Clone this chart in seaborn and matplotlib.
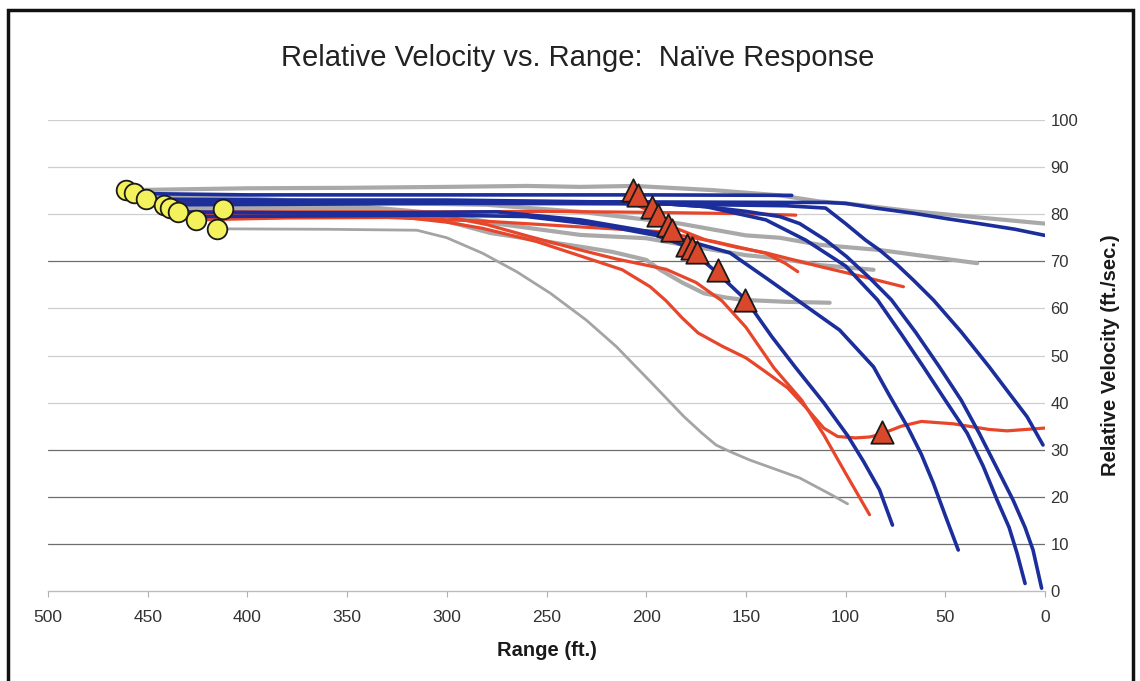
import pandas as pd
import matplotlib
matplotlib.use("Agg")
import matplotlib.pyplot as plt
from matplotlib.patches import Rectangle
import seaborn as sns

# ─── Data ─────────────────────────────────────────────────────────────────────
# grey trajectories
g1_range = [461, 400, 350, 300, 260, 233, 206, 166, 133, 113, 100, 66, 33, 0]
g1_vel   = [85.1, 85.5, 85.6, 85.8, 86.0, 85.8, 86.0, 85.1, 84.0, 82.7, 82.3, 80.6, 79.3, 78.0]
g2_range = [450, 400, 350, 280, 233, 183, 150, 133, 113, 83, 34]
g2_vel   = [84.0, 83.3, 82.5, 82.0, 80.5, 78.0, 75.5, 75.0, 73.5, 72.4, 69.6]
g3_range = [439, 390, 342, 300, 275, 233, 200, 176, 150, 133, 113, 86]
g3_vel   = [81.3, 81.4, 81.6, 80.0, 78.0, 75.6, 74.9, 73.1, 71.3, 70.6, 69.2, 68.2]
g4_range = [412, 380, 328, 300, 278, 233, 217, 200, 193, 182, 171, 160, 151, 130, 108]
g4_vel   = [81.2, 80.9, 80.9, 78.5, 76.0, 73.1, 72.0, 70.3, 68.2, 65.5, 63.2, 62.3, 61.8, 61.4, 61.2]
g5_range = [415, 360, 315, 300, 282, 265, 248, 230, 215, 198, 181, 172, 165, 158, 148, 123, 107, 99]
g5_vel   = [76.9, 76.8, 76.6, 75.0, 71.7, 67.8, 63.2, 57.5, 51.9, 44.5, 37.0, 33.5, 31.0, 29.6, 27.8, 24.0, 20.4, 18.5]

# red trajectories
r1_range = [440, 380, 300, 240, 215, 205, 195, 185, 170, 155, 140, 113, 91, 71]
r1_vel   = [82.4, 82.5, 82.5, 82.4, 82.4, 82.0, 80.0, 77.0, 74.5, 73.0, 71.8, 68.9, 66.7, 64.6]
r2_range = [435, 380, 300, 250, 200, 150, 125]
r2_vel   = [80.5, 80.5, 80.5, 80.6, 80.4, 80.1, 79.8]
r3_range = [426, 380, 330, 280, 233, 193, 166, 140, 130, 124]
r3_vel   = [78.8, 79.2, 79.3, 78.5, 77.3, 76.3, 74.2, 71.7, 69.5, 67.8]
r4_range = [420, 370, 325, 300, 282, 255, 232, 212, 198, 190, 182, 174, 162, 150, 140,
            129, 120, 111, 104, 95, 88, 83, 72, 62, 46, 28, 19, 0]
r4_vel   = [79.5, 79.5, 79.5, 78.3, 77.0, 74.2, 71.0, 68.2, 64.6, 61.6, 58.0, 54.8, 52.0, 49.5, 46.5,
            43.1, 39.0, 34.6, 32.8, 32.5, 32.7, 33.2, 35.0, 36.0, 35.5, 34.3, 34.0, 34.6]
r5_range = [430, 350, 300, 280, 258, 233, 215, 190, 175, 162, 150, 136, 122, 111, 100, 88]
r5_vel   = [80.0, 80.1, 79.5, 77.8, 75.2, 72.4, 70.5, 68.3, 65.5, 61.6, 56.0, 47.4, 40.5, 33.2, 25.0, 16.2]

# blue trajectories
b1_range = [457, 400, 300, 200, 127]
b1_vel   = [84.4, 84.1, 84.1, 84.1, 84.0]
b2_range = [451, 380, 300, 200, 130, 110, 100, 85, 66, 50, 33, 15, 0]
b2_vel   = [82.8, 82.8, 82.7, 82.6, 82.5, 82.5, 82.3, 81.3, 80.2, 79.1, 78.0, 76.8, 75.5]
b3_range = [442, 380, 300, 200, 130, 110, 100, 90, 83, 74, 66, 56, 42, 28, 18, 9, 1]
b3_vel   = [82.0, 82.1, 82.3, 82.2, 81.8, 81.3, 78.0, 74.5, 72.4, 69.2, 66.0, 61.8, 55.0, 47.6, 42.0, 37.0, 31.0]
b4_range = [451, 380, 300, 200, 170, 150, 133, 123, 110, 99.5, 88, 77, 65, 53, 42, 33, 24, 16, 10, 6, 1.7]
b4_vel   = [83.2, 83.0, 83.0, 82.5, 81.6, 80.6, 79.5, 78.0, 74.5, 71.0, 66.5, 61.8, 55.0, 47.6, 40.5,
            33.5, 26.0, 19.3, 13.5, 8.7, 0.6]
b5_range = [442, 380, 300, 200, 170, 140, 120, 100, 84, 72, 61, 50, 39, 31, 24, 18, 14, 10]
b5_vel   = [82.0, 82.6, 82.6, 82.5, 81.6, 78.8, 74.5, 69.0, 61.8, 54.5, 47.6, 40.5, 33.5, 26.5, 19.3,
            13.5, 8.0, 1.6]
b6_range = [435, 380, 330, 275, 233, 193, 178, 158, 140, 120, 103, 86, 78, 69, 62, 56, 50, 43.5]
b6_vel   = [80.5, 80.3, 80.3, 80.5, 78.8, 75.9, 74.2, 71.8, 66.5, 60.5, 55.4, 47.6, 41.5, 34.9, 29.0,
            22.9, 16.0, 8.7]
b7_range = [426, 380, 300, 260, 220, 195, 182, 172, 165, 150, 137, 125, 111, 99, 91, 83, 76.5]
b7_vel   = [79.5, 79.6, 79.8, 79.5, 77.5, 75.5, 73.5, 70.3, 67.8, 61.8, 54.0, 47.4, 40.0, 33.0, 27.5,
            21.5, 14.0]

# start markers (yellow circles) and response markers (red triangles)
start_range = [461, 457, 451, 442, 439, 435, 426, 415, 412]
start_vel   = [85.1, 84.4, 83.2, 82.0, 81.3, 80.5, 78.8, 76.9, 81.2]
resp_range  = [206.6, 204, 197, 194, 189, 187, 179.7, 177, 174.7, 164, 150.5, 81.7]
resp_vel    = [85.1, 84.1, 81.6, 79.8, 77.7, 76.6, 73.5, 72.8, 72.0, 68.2, 61.8, 33.8]

# ─── Long-form table ──────────────────────────────────────────────────────────
curves = [
    ("g1", "grey", g1_range, g1_vel), ("g2", "grey", g2_range, g2_vel),
    ("g3", "grey", g3_range, g3_vel), ("g4", "grey", g4_range, g4_vel),
    ("g5", "grey_thin", g5_range, g5_vel),
    ("r1", "red", r1_range, r1_vel), ("r2", "red", r2_range, r2_vel),
    ("r3", "red", r3_range, r3_vel), ("r4", "red", r4_range, r4_vel),
    ("r5", "red", r5_range, r5_vel),
    ("b1", "blue", b1_range, b1_vel), ("b2", "blue", b2_range, b2_vel),
    ("b3", "blue", b3_range, b3_vel), ("b4", "blue", b4_range, b4_vel),
    ("b5", "blue", b5_range, b5_vel), ("b6", "blue", b6_range, b6_vel),
    ("b7", "blue", b7_range, b7_vel),
]
df = pd.concat(
    [pd.DataFrame({"range": r, "velocity": v, "curve": n, "group": g}) for n, g, r, v in curves],
    ignore_index=True,
)

# ─── Plot ─────────────────────────────────────────────────────────────────────
sns.set_theme(style="white")
plt.rcParams["font.family"] = ["Liberation Sans", "DejaVu Sans"]

fig = plt.figure(figsize=(11.4, 6.81), dpi=100)
ax = fig.add_axes([48 / 1140, 1 - 591 / 681, (1045 - 48) / 1140, (591 - 120) / 681])

styles = {
    "grey_thin": ("#a4a4a4", 2.0),
    "grey":      ("#a9a9a9", 3.0),
    "red":       ("#e8462b", 2.3),
    "blue":      ("#1b2e9b", 2.6),
}
for grp, (col, lw) in styles.items():
    sns.lineplot(data=df[df["group"] == grp], x="range", y="velocity", units="curve",
                 estimator=None, sort=False, color=col, lw=lw, solid_capstyle="round",
                 legend=False, ax=ax)

sns.scatterplot(x=start_range, y=start_vel, s=200, color="#f4f25c", edgecolor="#1a1a1a",
                linewidth=1.3, zorder=6, ax=ax)
sns.scatterplot(x=resp_range, y=resp_vel, marker="^", s=260, color="#d9482b",
                edgecolor="#1a1a1a", linewidth=1.3, zorder=6, ax=ax)

ax.set_xlim(500, 0)
ax.set_ylim(0, 100)
ax.set_xticks(range(500, -1, -50))
ax.set_yticks(range(0, 101, 10))
ax.yaxis.tick_right()
ax.yaxis.set_label_position("right")

for s in ["top", "left", "right"]:
    ax.spines[s].set_visible(False)
ax.spines["bottom"].set_color("#bdbdbd")
ax.spines["bottom"].set_linewidth(1.0)

ax.grid(axis="y", color="#cfcfcf", lw=0.9)
ax.set_axisbelow(True)
dark_grid = [70, 30, 20, 10]
for val, gl in zip(ax.get_yticks(), ax.get_ygridlines()):
    if val in dark_grid:
        gl.set_color("#6e6e6e")
        gl.set_linewidth(0.9)
    elif val == 0:
        gl.set_visible(False)

ax.tick_params(axis="x", direction="out", length=4, color="#b0b0b0", width=0.8,
               labelsize=12.5, labelcolor="#333333", pad=10, bottom=True)
ax.tick_params(axis="y", length=0, pad=4, labelsize=12, labelcolor="#333333")

ax.set_xlabel("Range (ft.)", fontsize=14.5, fontweight="bold", color="#1a1a1a", labelpad=11)
ax.set_ylabel("Relative Velocity (ft./sec.)", fontsize=14.5, fontweight="bold",
              color="#1a1a1a", labelpad=16)

fig.text(0.507, 0.915, "Relative Velocity vs. Range:  Naïve Response",
         ha="center", va="center", fontsize=21, color="#222222")

fig.add_artist(Rectangle((8 / 1140, -0.05), (1133 - 8) / 1140, 1 - 10 / 681 + 0.05,
                         transform=fig.transFigure, fill=False, lw=2.5, ec="#111111"))

fig.savefig("out.png", dpi=100)
plt.close(fig)
